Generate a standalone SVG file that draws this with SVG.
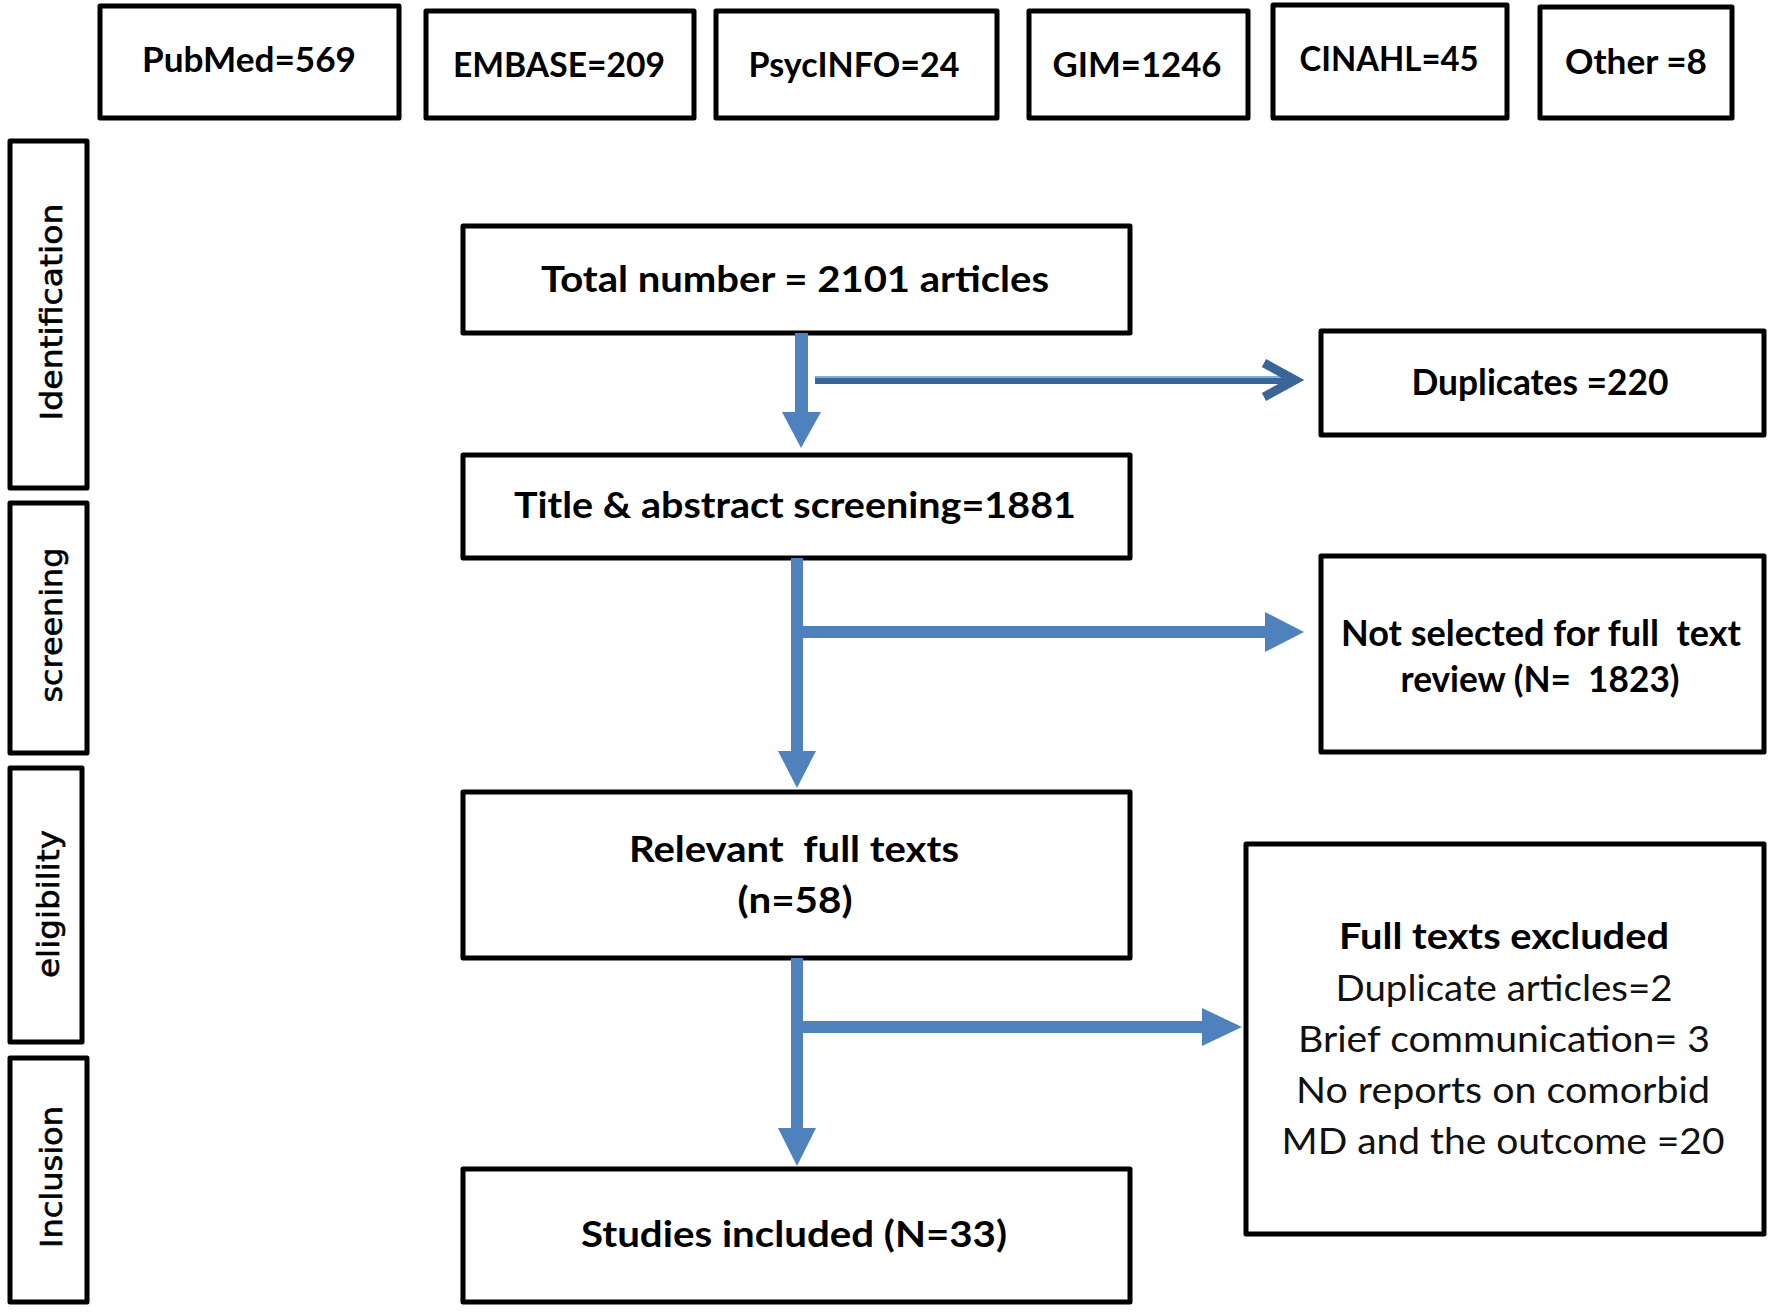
<svg xmlns="http://www.w3.org/2000/svg" width="1770" height="1315" viewBox="0 0 1770 1315">
<style>
.box{fill:#fff;stroke:#000;stroke-width:5;stroke-linejoin:round}
.t{font-family:Lato,"Open Sans","Liberation Sans",sans-serif;font-weight:bold;fill:#000;text-anchor:middle;white-space:pre}
.r{font-family:Lato,"Open Sans","Liberation Sans",sans-serif;font-weight:normal;fill:#111;text-anchor:middle}
.s{font-family:"DejaVu Sans","Liberation Sans",sans-serif;fill:#000;text-anchor:middle;stroke:#000;stroke-width:0.6}
.blue{fill:#4f81bd}
</style>
<rect width="1770" height="1315" fill="#fff"/>
<g id="src-pubmed"><rect class="box" x="100" y="6" width="299" height="112"/><text class="t" x="249" y="72" font-size="34" textLength="214" lengthAdjust="spacingAndGlyphs">PubMed=569</text></g>
<g id="src-embase"><rect class="box" x="426" y="11" width="268" height="107"/><text class="t" x="559" y="77" font-size="34" textLength="212" lengthAdjust="spacingAndGlyphs">EMBASE=209</text></g>
<g id="src-psycinfo"><rect class="box" x="716" y="11" width="281" height="107"/><text class="t" x="854" y="77" font-size="34" textLength="211" lengthAdjust="spacingAndGlyphs">PsycINFO=24</text></g>
<g id="src-gim"><rect class="box" x="1029" y="11" width="219" height="107"/><text class="t" x="1137" y="77" font-size="34" textLength="169" lengthAdjust="spacingAndGlyphs">GIM=1246</text></g>
<g id="src-cinahl"><rect class="box" x="1273" y="5" width="234" height="113"/><text class="t" x="1389" y="71" font-size="34" textLength="179" lengthAdjust="spacingAndGlyphs">CINAHL=45</text></g>
<g id="src-other"><rect class="box" x="1540" y="7" width="192" height="111"/><text class="t" x="1636" y="74" font-size="34" textLength="142" lengthAdjust="spacingAndGlyphs">Other =8</text></g>

<g id="stage-identification"><rect class="box" x="10" y="141" width="77" height="347"/><text class="s" transform="translate(62,312) rotate(-90)" font-size="30" textLength="217" lengthAdjust="spacingAndGlyphs">Identification</text></g>
<g id="stage-screening"><rect class="box" x="10" y="503" width="77" height="250"/><text class="s" transform="translate(62,625) rotate(-90)" font-size="30" textLength="155" lengthAdjust="spacingAndGlyphs">screening</text></g>
<g id="stage-eligibility"><rect class="box" x="10" y="768" width="72" height="274"/><text class="s" transform="translate(59,904) rotate(-90)" font-size="30" textLength="148" lengthAdjust="spacingAndGlyphs">eligibility</text></g>
<g id="stage-inclusion"><rect class="box" x="10" y="1058" width="77" height="244"/><text class="s" transform="translate(62,1177) rotate(-90)" font-size="30" textLength="142" lengthAdjust="spacingAndGlyphs">Inclusion</text></g>

<g id="total"><rect class="box" x="463" y="226" width="667" height="107"/><text class="t" x="795" y="292" font-size="36" textLength="508" lengthAdjust="spacingAndGlyphs">Total number = 2101 articles</text></g>
<g id="title-screening"><rect class="box" x="463" y="455" width="667" height="103"/><text class="t" x="795" y="518" font-size="36" textLength="562" lengthAdjust="spacingAndGlyphs">Title &amp; abstract screening=1881</text></g>
<g id="relevant"><rect class="box" x="463" y="792" width="667" height="166"/><text class="t" x="794" y="862" font-size="36" textLength="330" lengthAdjust="spacingAndGlyphs">Relevant  full texts</text><text class="t" x="795" y="913" font-size="36" textLength="115" lengthAdjust="spacingAndGlyphs">(n=58)</text></g>
<g id="included"><rect class="box" x="463" y="1169" width="667" height="133"/><text class="t" x="794" y="1247" font-size="36" textLength="426" lengthAdjust="spacingAndGlyphs">Studies included (N=33)</text></g>

<g id="duplicates"><rect class="box" x="1321" y="331" width="443" height="104"/><text class="t" x="1540" y="395" font-size="36" textLength="257" lengthAdjust="spacingAndGlyphs">Duplicates =220</text></g>
<g id="not-selected"><rect class="box" x="1321" y="556" width="443" height="196"/><text class="t" x="1541" y="646" font-size="36" textLength="400" lengthAdjust="spacingAndGlyphs">Not selected for full  text</text><text class="t" x="1540" y="692" font-size="36" textLength="279" lengthAdjust="spacingAndGlyphs">review (N=  1823)</text></g>
<g id="excluded"><rect class="box" x="1246" y="844" width="518" height="390"/>
<text class="t" x="1504" y="949" font-size="36" textLength="330" lengthAdjust="spacingAndGlyphs">Full texts excluded</text>
<text class="r" x="1504" y="1001" font-size="36" textLength="337" lengthAdjust="spacingAndGlyphs">Duplicate articles=2</text>
<text class="r" x="1504" y="1052" font-size="36" textLength="412" lengthAdjust="spacingAndGlyphs">Brief communication= 3</text>
<text class="r" x="1503" y="1103" font-size="36" textLength="414" lengthAdjust="spacingAndGlyphs">No reports on comorbid</text>
<text class="r" x="1503" y="1154" font-size="36" textLength="443" lengthAdjust="spacingAndGlyphs">MD and the outcome =20</text>
</g>

<g id="connectors">
<rect class="blue" x="795" y="333" width="13" height="80"/>
<polygon class="blue" points="782,412 821,412 801,448"/>
<line x1="815" y1="380" x2="1290" y2="380" stroke="#3a6596" stroke-width="8"/>
<line x1="815" y1="377" x2="1285" y2="377" stroke="#7fb3d8" stroke-width="2"/>
<polyline points="1264,363 1295,380 1264,397" fill="none" stroke="#3a6596" stroke-width="9" stroke-linejoin="miter"/>

<rect class="blue" x="791" y="558" width="12" height="194"/>
<polygon class="blue" points="778,751 816,751 797,788"/>
<rect class="blue" x="797" y="626" width="469" height="12"/>
<polygon class="blue" points="1265,612 1265,652 1304,632"/>

<rect class="blue" x="791" y="958" width="12" height="171"/>
<polygon class="blue" points="778,1128 816,1128 797,1166"/>
<rect class="blue" x="797" y="1021" width="406" height="12"/>
<polygon class="blue" points="1202,1008 1202,1046 1242,1027"/>
</g>
</svg>
